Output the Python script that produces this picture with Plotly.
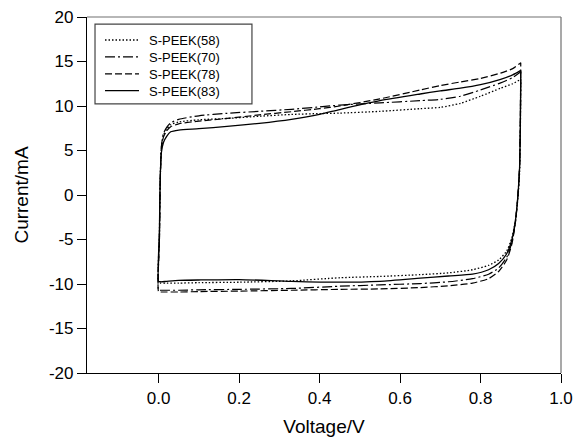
import plotly.graph_objects as go

# ---------------- data ----------------
series_names = ["S-PEEK(58)", "S-PEEK(70)", "S-PEEK(78)", "S-PEEK(83)"]

# forward (anodic) scan voltages, V
v_forward = [0.0, 0.002, 0.004, 0.007, 0.012, 0.02, 0.03, 0.05, 0.1, 0.17, 0.25,
             0.33, 0.4, 0.45, 0.55, 0.65, 0.7, 0.75, 0.8, 0.85, 0.88, 0.9]
# reverse (cathodic) scan voltages, V
v_reverse = [0.9, 0.899, 0.897, 0.893, 0.887, 0.878, 0.865, 0.845, 0.82, 0.78, 0.72,
             0.65, 0.55, 0.45, 0.33, 0.2, 0.1, 0.05, 0.02, 0.005, 0.0]

# currents, mA
i58_forward = [-9.9, -4.5, 1.8, 5.4, 6.7, 7.4, 7.9, 8.2, 8.45, 8.6, 8.85,
               9.05, 9.15, 9.2, 9.4, 9.7, 9.85, 10.3, 11.1, 12.0, 12.5, 13.0]
i58_reverse = [13.0, 7.5, 2.5, -0.3, -2.8, -4.8, -6.3, -7.3, -7.9, -8.4, -8.75,
               -8.95, -9.15, -9.3, -9.65, -9.8, -9.85, -9.9, -9.9, -9.9, -9.9]

i70_forward = [-10.7, -5.0, 1.5, 5.5, 6.9, 7.6, 8.1, 8.5, 8.9, 9.18, 9.4,
               9.63, 9.9, 10.1, 10.35, 10.6, 10.75, 11.1, 11.8, 12.6, 13.2, 13.85]
i70_reverse = [13.85, 8.0, 3.0, 0.0, -2.9, -5.3, -7.0, -8.2, -8.9, -9.4, -9.75,
               -9.95, -10.1, -10.25, -10.5, -10.6, -10.65, -10.7, -10.7, -10.7, -10.7]

i78_forward = [-10.9, -5.0, 1.5, 5.2, 6.5, 7.2, 7.67, 8.0, 8.3, 8.6, 9.0,
               9.36, 9.7, 10.0, 10.8, 11.8, 12.3, 12.7, 13.1, 13.7, 14.2, 14.87]
i78_reverse = [14.87, 8.5, 3.2, 0.0, -3.0, -5.5, -7.3, -8.6, -9.4, -9.9, -10.2,
               -10.4, -10.55, -10.6, -10.7, -10.8, -10.85, -10.9, -10.9, -10.9, -10.9]

i83_forward = [-9.7, -4.0, 2.0, 4.8, 5.9, 6.6, 7.1, 7.3, 7.45, 7.7, 8.05,
               8.5, 9.05, 9.6, 10.6, 11.35, 11.7, 12.0, 12.4, 13.0, 13.5, 14.0]
i83_reverse = [14.0, 8.0, 3.0, 0.0, -2.8, -5.0, -6.6, -7.7, -8.4, -8.9, -9.1,
               -9.35, -9.7, -9.8, -9.7, -9.5, -9.55, -9.6, -9.7, -9.75, -9.7]

x_tick_vals = [0.0, 0.2, 0.4, 0.6, 0.8, 1.0]
x_tick_text = ["0.0", "0.2", "0.4", "0.6", "0.8", "1.0"]
y_tick_vals = [20, 15, 10, 5, 0, -5, -10, -15, -20]
y_tick_text = ["20", "15", "10", "5", "0", "-5", "-10", "-15", "-20"]

# ---------------- styles ----------------
currents = [
    (i58_forward, i58_reverse),
    (i70_forward, i70_reverse),
    (i78_forward, i78_reverse),
    (i83_forward, i83_reverse),
]
dashes = ["1.5px,2px", "10px,3px,2px,3px", "7px,3px", "solid"]
widths = [1.3, 1.2, 1.2, 1.3]

fig = go.Figure()
for name, (fwd, rev), dash, w in zip(series_names, currents, dashes, widths):
    fig.add_trace(go.Scatter(
        x=v_forward + v_reverse,
        y=fwd + rev,
        mode="lines",
        name=name,
        line=dict(color="black", width=w, dash=dash, shape="spline", smoothing=0.6),
        showlegend=False,
    ))

font_family = "Liberation Sans, Arial, sans-serif"

# manual legend (compact, like the original)
shapes = [
    dict(type="line", xref="paper", yref="paper", x0=0, x1=1, y0=1, y1=1,
         line=dict(color="#707070", width=1.2)),
    dict(type="line", xref="paper", yref="paper", x0=1, x1=1, y0=0, y1=1,
         line=dict(color="#707070", width=1.2)),
    dict(type="rect", xref="paper", yref="paper", x0=0.0169, x1=0.348, y0=0.756, y1=0.980,
         line=dict(color="#444444", width=1.2), fillcolor="white"),
]
legend_font = 13
row_step = legend_font * 1.3 / 356.0
row_top = 0.9354
row_y = [row_top - k * row_step for k in range(len(series_names))]
for dash, w, yy in zip(dashes, widths, row_y):
    shapes.append(dict(type="line", xref="paper", yref="paper", x0=0.038, x1=0.1097,
                       y0=yy, y1=yy, line=dict(color="black", width=w, dash=dash)))
annotations = [dict(
    xref="paper", yref="paper", x=0.1287, y=row_top + row_step / 2,
    text="<br>".join(series_names), showarrow=False, xanchor="left", yanchor="top",
    align="left", borderpad=0,
    font=dict(size=legend_font, color="black", family=font_family),
)]

fig.update_layout(
    width=574, height=438,
    margin=dict(l=87, r=13, t=17, b=65),
    paper_bgcolor="white", plot_bgcolor="white",
    font=dict(family=font_family, color="black"),
    shapes=shapes,
    annotations=annotations,
)
fig.update_xaxes(
    range=[-0.178, 1.0], tickvals=x_tick_vals, ticktext=x_tick_text, automargin=False,
    showgrid=False, zeroline=False, showline=True, linecolor="black", linewidth=1.2,
    ticks="outside", ticklen=9, tickcolor="black", tickwidth=1.2,
    tickfont=dict(size=17, family=font_family),
    title=dict(text="Voltage/V", font=dict(size=19, family=font_family), standoff=13),
)
fig.update_yaxes(
    range=[-20, 20], tickvals=y_tick_vals, ticktext=y_tick_text, automargin=False,
    showgrid=False, zeroline=False, showline=True, linecolor="black", linewidth=1.2,
    ticks="outside", ticklen=9, tickcolor="black", tickwidth=1.2,
    tickfont=dict(size=17, family=font_family),
    title=dict(text="Current/mA", font=dict(size=19, family=font_family), standoff=15),
)

fig.write_html("out.html",
               config={"displayModeBar": False},
               post_script="document.body.style.margin='0';document.body.style.overflow='hidden';")
